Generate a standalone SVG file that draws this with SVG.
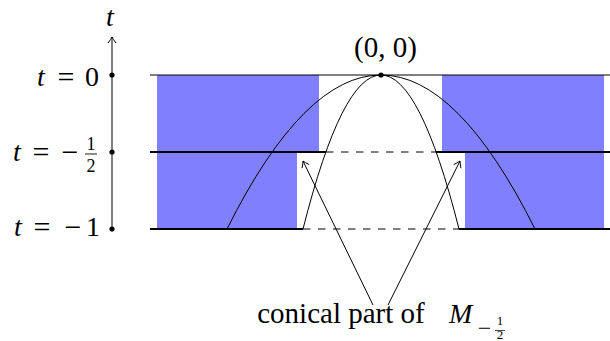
<svg xmlns="http://www.w3.org/2000/svg" width="610" height="341" viewBox="0 0 610 341">
  <rect width="610" height="341" fill="#fff"/>

  <g id="regions" fill="#8080ff">
    <rect x="157" y="75" width="162" height="77"/>
    <rect x="157" y="152" width="140" height="77"/>
    <rect x="442" y="75" width="162" height="77"/>
    <rect x="465" y="152" width="139" height="77"/>
  </g>

  <g id="levels" stroke="#000" fill="none">
    <line stroke-width="1" x1="150" y1="75" x2="610" y2="75"/>
    <line stroke-width="2.2" x1="150" y1="152" x2="326" y2="152"/>
    <line stroke-width="1" stroke-dasharray="7.5 7.5" x1="326" y1="152" x2="436" y2="152"/>
    <line stroke-width="2.2" x1="436" y1="152" x2="610" y2="152"/>
    <line stroke-width="2.2" x1="150" y1="229" x2="303" y2="229"/>
    <line stroke-width="1" stroke-dasharray="7.5 7.5" x1="303" y1="229" x2="459" y2="229"/>
    <line stroke-width="2.2" x1="459" y1="229" x2="610" y2="229"/>
  </g>

  <g id="curves" stroke="#000" stroke-width="1" fill="none">
    <path d="M 227,229 Q 304,75 381,75 Q 458,75 535,229"/>
    <path d="M 303,229 Q 342,75 381,75 Q 420,75 459,229"/>
  </g>

  <g id="axis">
    <line stroke="#000" stroke-width="1" x1="112" y1="229" x2="112" y2="37"/>
    <path d="M108,43 Q111,39 112,37 Q113,39 116,43" fill="none" stroke="#000" stroke-width="1"/>
    <text font-family="'Liberation Serif'" font-size="28" font-style="italic" x="110" y="26" text-anchor="middle">t</text>
    <circle cx="112" cy="75" r="2.6"/>
    <circle cx="112" cy="152" r="2.6"/>
    <circle cx="112" cy="229" r="2.6"/>
  </g>

  <g id="label-t0">
    <text font-family="'Liberation Serif'" font-size="28" font-style="italic" x="41" y="86" text-anchor="middle">t</text>
    <text font-family="'Liberation Serif'" font-size="30" x="66" y="87" text-anchor="middle">=</text>
    <text font-family="'Liberation Serif'" font-size="28" x="92" y="86" text-anchor="middle">0</text>
  </g>

  <g id="label-thalf">
    <text font-family="'Liberation Serif'" font-size="28" font-style="italic" x="17" y="161" text-anchor="middle">t</text>
    <text font-family="'Liberation Serif'" font-size="30" x="41" y="162" text-anchor="middle">=</text>
    <text font-family="'Liberation Serif'" font-size="30" x="70" y="162" text-anchor="middle">&#8722;</text>
    <text font-family="'Liberation Serif'" font-size="18" x="91" y="150" text-anchor="middle">1</text>
    <line x1="85" y1="154" x2="97" y2="154" stroke="#000" stroke-width="0.9"/>
    <text font-family="'Liberation Serif'" font-size="18" x="91" y="172" text-anchor="middle">2</text>
  </g>

  <g id="label-tm1">
    <text font-family="'Liberation Serif'" font-size="28" font-style="italic" x="18" y="236" text-anchor="middle">t</text>
    <text font-family="'Liberation Serif'" font-size="30" x="42" y="237" text-anchor="middle">=</text>
    <text font-family="'Liberation Serif'" font-size="30" x="73" y="237" text-anchor="middle">&#8722;</text>
    <text font-family="'Liberation Serif'" font-size="28" x="93" y="236" text-anchor="middle">1</text>
  </g>

  <g id="origin">
    <circle cx="381" cy="75" r="2.6"/>
    <text font-family="'Liberation Serif'" font-size="29" x="385.5" y="57" text-anchor="middle">(0, 0)</text>
  </g>

  <g id="conical-label">
    <text font-family="'Liberation Serif'" font-size="29" x="341" y="323" text-anchor="middle">conical part of</text>
    <text font-family="'Liberation Serif'" font-size="28" font-style="italic" x="449" y="323">M</text>
    <text font-family="'Liberation Serif'" font-size="24" x="484.5" y="336" text-anchor="middle">&#8722;</text>
    <text font-family="'Liberation Serif'" font-size="13" x="500" y="325" text-anchor="middle">1</text>
    <line x1="495" y1="330.5" x2="505" y2="330.5" stroke="#000" stroke-width="0.7"/>
    <text font-family="'Liberation Serif'" font-size="13" x="500" y="339" text-anchor="middle">2</text>
  </g>

  <g id="connectors" stroke="#000" stroke-width="1" fill="none">
    <line x1="373" y1="305" x2="303" y2="161"/>
    <path d="M309.2,164.6 Q304.8,162.4 303,161 Q303,163.2 302,168.2"/>
    <line x1="388" y1="305" x2="460" y2="161"/>
    <path d="M460.9,168.2 Q460,163.2 460,161 Q458.2,162.4 453.7,164.6"/>
  </g>
</svg>
